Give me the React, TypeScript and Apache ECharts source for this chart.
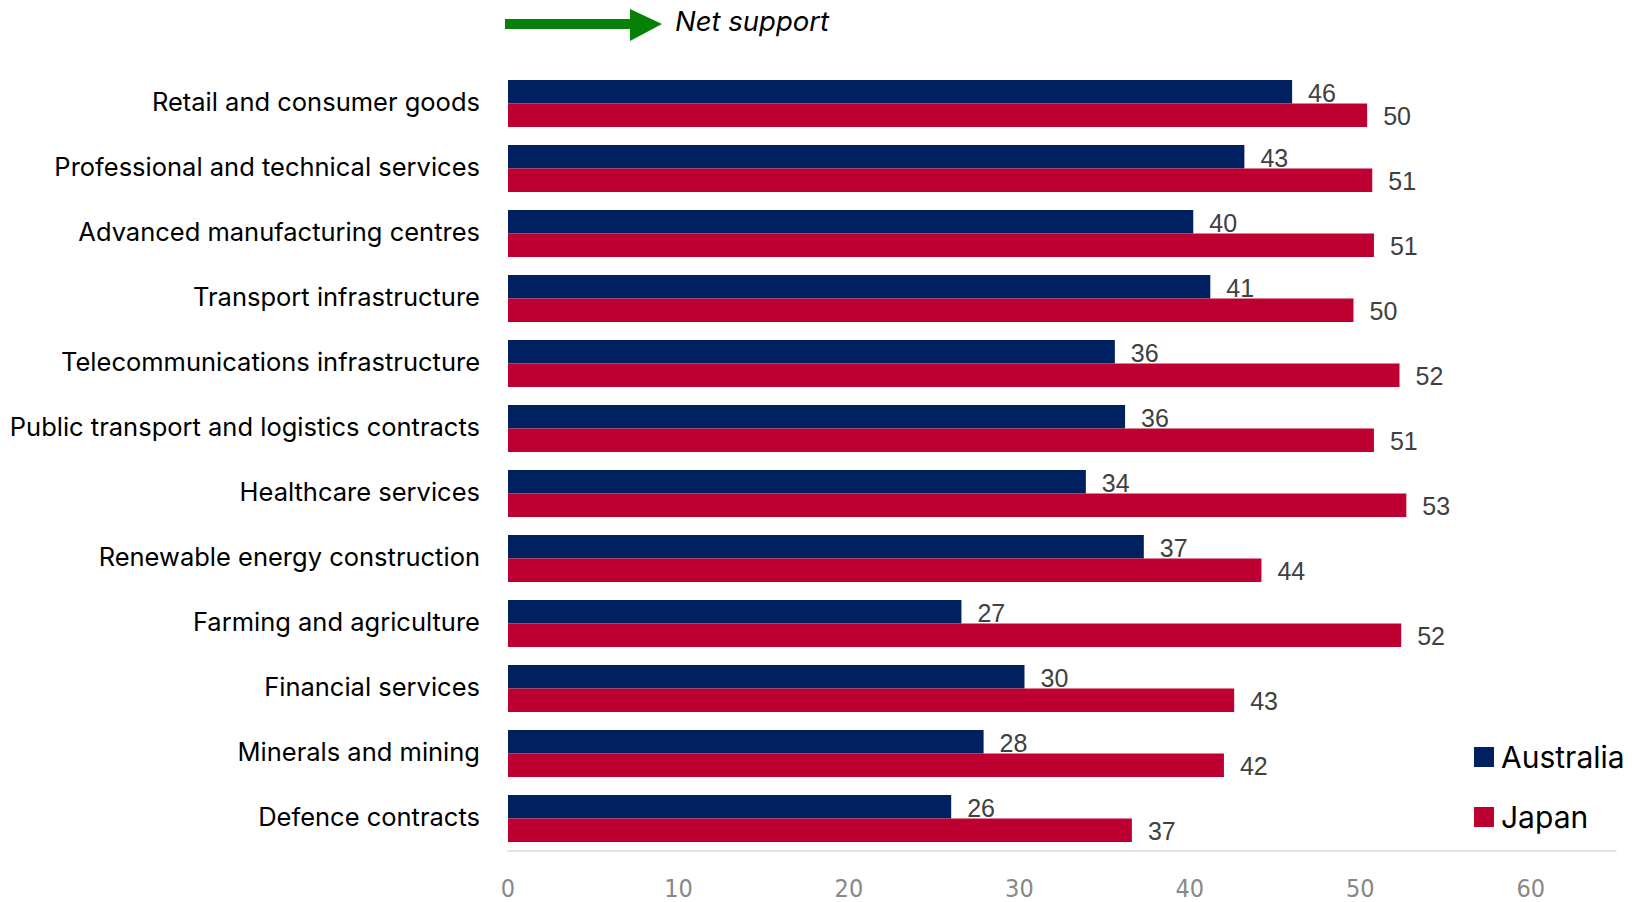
import React, { useEffect, useRef } from "react";
import * as echarts from "echarts";

const categories = [
  "Retail and consumer goods",
  "Professional and technical services",
  "Advanced manufacturing centres",
  "Transport infrastructure",
  "Telecommunications infrastructure",
  "Public transport and logistics contracts",
  "Healthcare services",
  "Renewable energy construction",
  "Farming and agriculture",
  "Financial services",
  "Minerals and mining",
  "Defence contracts",
];
const australia = [46.0, 43.2, 40.2, 41.2, 35.6, 36.2, 33.9, 37.3, 26.6, 30.3, 27.9, 26.0];
const japan = [50.4, 50.7, 50.8, 49.6, 52.3, 50.8, 52.7, 44.2, 52.4, 42.6, 42.0, 36.6];
const seriesNames = ["Australia", "Japan"];
const headerText = "Net support";

const CAT_FONT = "Inter, 'Noto Sans', sans-serif";

export default function App() {
  const ref = useRef<HTMLDivElement>(null);
  useEffect(() => {
    if (!ref.current) return;
    const chart = echarts.init(ref.current, null, { renderer: "svg" });
    const labelStyle = {
      show: true,
      position: "right",
      distance: 16,
      color: "#404040",
      fontSize: 25,
      fontFamily: "'Liberation Sans', Arial, sans-serif",
      offset: [0, 1],
      formatter: (p: any) => String(Math.round(p.value)),
    };
    chart.setOption({
      animation: false,
      backgroundColor: "#ffffff",
      grid: { left: 508, right: 21, top: 71, bottom: 51, containLabel: false },
      legend: {
        data: seriesNames,
        orient: "vertical",
        left: 1469,
        top: 737,
        itemWidth: 20,
        itemHeight: 20,
        itemGap: 30,
        icon: "rect",
        textStyle: { fontSize: 30, color: "#000", fontFamily: CAT_FONT, padding: [0, 0, 0, 2] },
      },
      xAxis: {
        type: "value",
        min: 0,
        max: 65,
        interval: 10,
        axisLine: { show: true, lineStyle: { color: "#d9d9d9", width: 1.5 } },
        axisTick: { show: false },
        splitLine: { show: false },
        axisLabel: {
          margin: 26,
          color: "#888888",
          fontSize: 25,
          lineHeight: 22,
          fontFamily: "'Liberation Sans Narrow', 'DejaVu Sans Condensed', sans-serif",
          showMaxLabel: false,
          formatter: (v: number) => (v % 10 === 0 ? String(v) : ""),
        },
      },
      yAxis: {
        type: "category",
        data: categories,
        inverse: true,
        axisLine: { show: false },
        axisTick: { show: false },
        axisLabel: {
          margin: 28,
          formatter: (v: string) => "{c|" + v + "}",
          rich: {
            c: {
              color: "#000",
              fontSize: 25.5,
              fontFamily: CAT_FONT,
              padding: [0, 0, 5, 0],
            },
          },
        },
      },
      graphic: [
        {
          type: "polygon",
          shape: {
            points: [
              [505, 19],
              [630, 19],
              [630, 9],
              [662, 24],
              [630, 41],
              [630, 29],
              [505, 29],
            ],
          },
          style: { fill: "#078007" },
        },
        {
          type: "text",
          x: 675,
          y: 21,
          style: {
            text: headerText,
            fontSize: 27.5,
            fontStyle: "italic",
            fontFamily: CAT_FONT,
            fill: "#000",
            verticalAlign: "middle",
          },
        },
      ],
      series: [
        {
          name: seriesNames[0],
          type: "bar",
          data: australia,
          barWidth: 23.5,
          barGap: "0%",
          itemStyle: { color: "#00205F" },
          label: labelStyle,
        },
        {
          name: seriesNames[1],
          type: "bar",
          data: japan,
          barWidth: 23.5,
          barGap: "0%",
          itemStyle: { color: "#BD0031" },
          label: labelStyle,
        },
      ],
    });
    return () => chart.dispose();
  }, []);
  return (
    <div
      ref={ref}
      style={{ position: "fixed", left: 0, top: 0, width: 1637, height: 902 }}
    />
  );
}
